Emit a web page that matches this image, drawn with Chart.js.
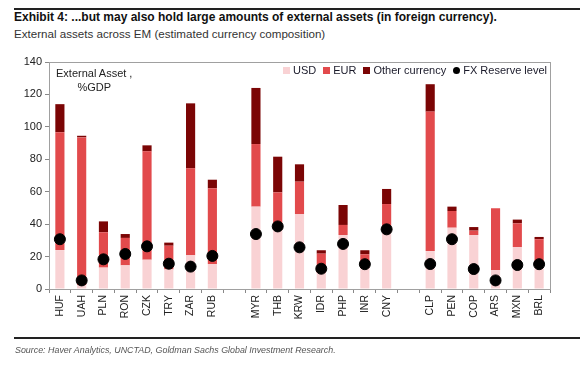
<!DOCTYPE html>
<html>
<head>
<meta charset="utf-8">
<script src="https://cdn.jsdelivr.net/npm/chart.js@4"></script>
<style>
  body { margin: 0; background: #fff; font-family: "Liberation Sans", Arial, sans-serif; }
  #wrap { position: relative; width: 580px; height: 366px; }
  #chart { position: absolute; left: 0; top: 0; }
  .rule { position: absolute; left: 14px; right: 0; height: 2px; background: #222; }
  #title { position: absolute; left: 14px; top: 10px; font-size: 12px; font-weight: bold; color: #111; }
  #subtitle { position: absolute; left: 14px; top: 27px; font-size: 11.6px; color: #333; }
  #unit { position: absolute; left: 56px; top: 66px; font-size: 11px; color: #222; text-align: center; line-height: 14px; }
  #legend { position: absolute; right: 33px; top: 64px; font-size: 11px; color: #1a1a2a; white-space: nowrap; }
  #legend span.item { display: inline-block; margin-left: 7px; }
  #legend span.box { display: inline-block; width: 7px; height: 7px; margin-right: 3px; vertical-align: 0px; }
  #source { position: absolute; left: 15px; top: 345px; font-size: 8.9px; font-style: italic; color: #555; }
</style>
</head>
<body>
<div id="wrap">
  <div class="rule" style="top:8px"></div>
  <div id="title">Exhibit 4: ...but may also hold large amounts of external assets (in foreign currency).</div>
  <div id="subtitle">External assets across EM (estimated currency composition)</div>
  <canvas id="chart" width="580" height="366"></canvas>
  <div id="unit">External Asset ,<br>%GDP</div>
  <div id="legend"></div>
  <div class="rule" style="top:337px"></div>
  <div id="source">Source: Haver Analytics, UNCTAD, Goldman Sachs Global Investment Research.</div>
</div>
<script>
// currencies, with blank slots separating the regions
var labels = ['HUF','UAH','PLN','RON','CZK','TRY','ZAR','RUB','',
              'MYR','THB','KRW','IDR','PHP','INR','CNY','',
              'CLP','PEN','COP','ARS','MXN','BRL'];

// external assets, % of GDP
var usd   = [24, 2.5, 13.2, 14.6, 18.1, 12.1, 20.8, 15.4, null,
             50.8, 40, 46.1, 10, 33.3, 12.8, 34.7, null,
             23.4, 37.8, 33.3, 11.7, 25.9, 15.5];
var eur   = [72.7, 91, 21.8, 16.9, 66.8, 14.6, 53.6, 46.7, null,
             38.6, 19.6, 20.1, 11.8, 6.2, 8.6, 17.7, null,
             86, 10.3, 2.7, 38.1, 14.6, 15.2];
var other = [17.3, 1, 6.7, 2.4, 3.7, 1.9, 40.1, 5.3, null,
             34.6, 22, 10.7, 2.1, 12.3, 2.5, 9.3, null,
             16.9, 2.7, 2.2, 0, 2.3, 1.4];
var fxReserve = [30.7, 5.3, 18.3, 21.6, 26.3, 15.6, 13.8, 20.4, null,
                 33.9, 38.6, 25.7, 12.5, 27.8, 15.3, 36.8, null,
                 15.4, 30.7, 12.3, 5.3, 14.8, 15.3];

var yTicks = [0, 140, 20]; // min, max, step

// frame around the plot area
var framePlugin = {
  id: 'frame',
  afterDraw: function(chart) {
    var a = chart.chartArea, c = chart.ctx;
    c.save();
    c.strokeStyle = '#a0a0a0';
    c.lineWidth = 1;
    c.strokeRect(a.left + 0.5, a.top + 0.5, a.right - a.left, a.bottom - a.top);
    c.restore();
  }
};

Chart.defaults.font.family = '"Liberation Sans", Arial, sans-serif';
Chart.defaults.color = '#222';

var ctx = document.getElementById('chart');
var myChart = new Chart(ctx, {
  data: {
    labels: labels,
    datasets: [
      { type: 'bar', label: 'USD', data: usd, backgroundColor: '#f9d2d4', stack: 'a', order: 1 },
      { type: 'bar', label: 'EUR', data: eur, backgroundColor: '#e24a4c', stack: 'a', order: 1 },
      { type: 'bar', label: 'Other currency', data: other, backgroundColor: '#7b0505', stack: 'a', order: 1 },
      { type: 'line', label: 'FX Reserve level', data: fxReserve, showLine: false,
        pointRadius: 5.5, pointHoverRadius: 5.5, backgroundColor: '#000', borderColor: '#000',
        stack: 'fx', order: 0 }
    ]
  },
  options: {
    responsive: false,
    animation: false,
    layout: { padding: { top: 62, right: 30, left: 0, bottom: 0 } },
    datasets: { bar: { barPercentage: 0.42, categoryPercentage: 1 } },
    plugins: {
      legend: { display: false },
      tooltip: { enabled: false }
    },
    scales: {
      x: {
        stacked: true,
        afterFit: function(s) { s.height = 77; },
        border: { color: '#888' },
        grid: { offset: true, drawOnChartArea: false, tickLength: 4, color: '#888' },
        ticks: { autoSkip: false, maxRotation: 90, minRotation: 90, padding: 2, font: { size: 10.5 }, color: '#222' }
      },
      y: {
        stacked: true,
        min: yTicks[0],
        max: yTicks[1],
        afterFit: function(s) { s.width = 49; },
        border: { color: '#888' },
        grid: { drawOnChartArea: false, tickLength: 4, color: '#888' },
        ticks: { stepSize: yTicks[2], padding: 3, font: { size: 11 }, color: '#222' }
      }
    }
  },
  plugins: [framePlugin]
});

// legend inside the plot, built from the datasets
var leg = document.getElementById('legend');
myChart.data.datasets.forEach(function(ds) {
  var radius = ds.type === 'line' ? '50%' : '0';
  leg.innerHTML += '<span class="item"><span class="box" style="background:' + ds.backgroundColor +
    ';border-radius:' + radius + '"></span>' + ds.label + '</span>';
});
</script>
</body>
</html>
